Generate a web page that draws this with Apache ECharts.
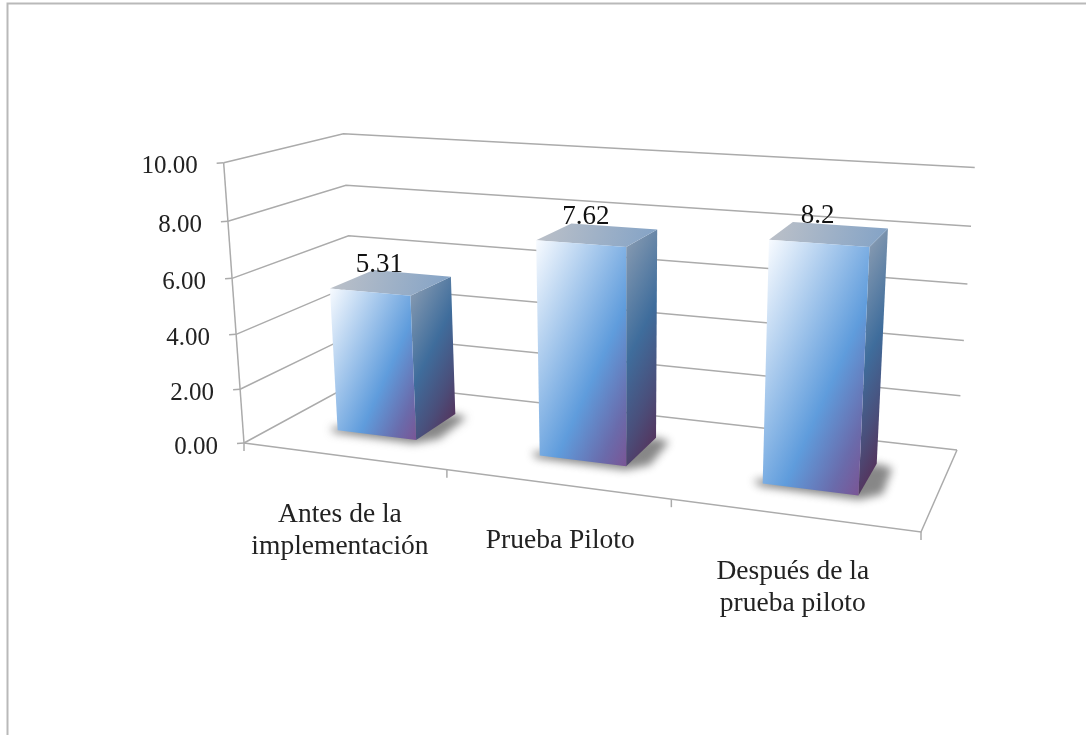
<!DOCTYPE html>
<html>
<head>
<meta charset="utf-8">
<style>html,body{margin:0;padding:0;background:#fff}#main{width:1086px;height:735px}</style>
<script src="https://cdn.jsdelivr.net/npm/echarts@6/dist/echarts.min.js"></script>
</head>
<body>
<div id="main"></div>
<script>
// data
var categories = ['Antes de la\nimplementación', 'Prueba Piloto', 'Después de la\nprueba piloto'];
var barValues = [5.31, 7.62, 8.2];
var barLabels = ['5.31', '7.62', '8.2'];
var yTicks = [0, 2, 4, 6, 8, 10];
var yTickLabels = ['0.00', '2.00', '4.00', '6.00', '8.00', '10.00'];

// corners of the 3d box on screen
var floorFL = [244, 443], floorFR = [921, 532], floorBR = [957, 450], floorBL = [356, 382];
var topFL = [225, 163], topBL = [342, 134], topBR = [975, 167];
var catLabelOffset = [[-3, 75], [4, 57], [0, 73]];

var FONT = '"Liberation Serif", serif';
var LINE = '#ababab';
var barRatio = 0.4, depthNear = 0.3, depthFar = 0.7;

// homography of the unit floor square (Heckbert)
function makeCamera() {
    var x0 = floorFL[0], y0 = floorFL[1], x1 = floorFR[0], y1 = floorFR[1];
    var x2 = floorBR[0], y2 = floorBR[1], x3 = floorBL[0], y3 = floorBL[1];
    var dx1 = x1 - x2, dx2 = x3 - x2, sx = x0 - x1 + x2 - x3;
    var dy1 = y1 - y2, dy2 = y3 - y2, sy = y0 - y1 + y2 - y3;
    var den = dx1 * dy2 - dx2 * dy1;
    var g = (sx * dy2 - dx2 * sy) / den;
    var h = (dx1 * sy - sx * dy1) / den;
    var pu = [x1 - x0 + g * x1, y1 - y0 + g * y1, g];
    var pd = [x3 - x0 + h * x3, y3 - y0 + h * y3, h];
    var p0 = [x0, y0, 1];

    // height column: least squares over the three top corners we can see
    var tops = [
        { p: topFL, u: 0, d: 0 },
        { p: topBL, u: 0, d: 1 },
        { p: topBR, u: 1, d: 1 }
    ];
    var rows = tops.map(function (t) {
        var sxv = pu[0] * t.u + pd[0] * t.d + p0[0];
        var syv = pu[1] * t.u + pd[1] * t.d + p0[1];
        var swv = pu[2] * t.u + pd[2] * t.d + p0[2];
        return { X: t.p[0], Y: t.p[1], r: t.p[0] * swv - sxv, s: t.p[1] * swv - syv };
    });
    function mean(key) {
        return rows.reduce(function (a, b) { return a + b[key]; }, 0) / rows.length;
    }
    var mX = mean('X'), mY = mean('Y'), mR = mean('r'), mS = mean('s');
    var num = 0, dn = 0;
    rows.forEach(function (q) {
        num += (q.X - mX) * (q.r - mR) + (q.Y - mY) * (q.s - mS);
        dn += (q.X - mX) * (q.X - mX) + (q.Y - mY) * (q.Y - mY);
    });
    var c = -num / dn;
    var pv = [mR + mX * c, mS + mY * c, c];
    return { pu: pu, pv: pv, pd: pd, p0: p0 };
}
var cam = makeCamera();

function project(u, v, d) {
    var X = cam.pu[0] * u + cam.pv[0] * v + cam.pd[0] * d + cam.p0[0];
    var Y = cam.pu[1] * u + cam.pv[1] * v + cam.pd[1] * d + cam.p0[1];
    var W = cam.pu[2] * u + cam.pv[2] * v + cam.pd[2] * d + cam.p0[2];
    return [X / W, Y / W];
}

// gradient along dir, from the first corner it meets to the last one
function faceGradient(pts, dir, stops) {
    var len = Math.sqrt(dir[0] * dir[0] + dir[1] * dir[1]);
    var dx = dir[0] / len, dy = dir[1] / len;
    var ts = pts.map(function (p) { return p[0] * dx + p[1] * dy; });
    var tMin = Math.min.apply(null, ts), tMax = Math.max.apply(null, ts);
    var cx = 0, cy = 0;
    pts.forEach(function (p) { cx += p[0] / pts.length; cy += p[1] / pts.length; });
    var tc = cx * dx + cy * dy;
    return new echarts.graphic.LinearGradient(
        cx + (tMin - tc) * dx, cy + (tMin - tc) * dy,
        cx + (tMax - tc) * dx, cy + (tMax - tc) * dy, stops, true);
}

var frontStops = [
    { offset: 0, color: '#f8fbff' }, { offset: 0.62, color: '#5f9cdc' },
    { offset: 0.86, color: '#6a6bab' }, { offset: 1, color: '#7a5595' }
];
var sideStops = [
    { offset: 0, color: '#8398b0' }, { offset: 0.46, color: '#3f6d9c' },
    { offset: 0.78, color: '#4a4f7b' }, { offset: 1, color: '#54365f' }
];
var topStops = [{ offset: 0, color: '#bbc0c8' }, { offset: 1, color: '#84a3c6' }];

function lineEl(points, width) {
    return { type: 'polyline', shape: { points: points }, style: { stroke: LINE, lineWidth: width || 1.5, fill: null } };
}

// value axis: walls, gridlines, stubs, labels
function renderWall(params, api) {
    var sys = params.coordSys;
    var y = api.coord([0, api.value(0)])[1];
    var v = (sys.y + sys.height - y) / sys.height;
    var front = project(0, v, 0);
    return {
        type: 'group',
        children: [
            lineEl([front, project(0, v, 1), project(1, v, 1)]),
            lineEl([front, [front[0] - 7, front[1] + 0.5]]),
            {
                type: 'text',
                style: {
                    text: yTickLabels[params.dataIndex], x: front[0] - 26, y: front[1] + 4,
                    align: 'right', verticalAlign: 'middle', font: '25px ' + FONT, fill: '#222'
                }
            }
        ]
    };
}

// category axis: floor outline, ticks, labels
function renderFloor(params, api) {
    var sys = params.coordSys;
    var i = params.dataIndex, n = categories.length;
    var c = api.coord([i, 0]);
    var u = (c[0] - sys.x) / sys.width;
    var tick = project((i + 1) / n, 0, 0);
    var mid = project(u, 0, 0);
    var children = [
        lineEl([tick, [tick[0], tick[1] + 8]]),
        {
            type: 'text',
            style: {
                text: categories[i], x: mid[0] + catLabelOffset[i][0], y: mid[1] + catLabelOffset[i][1],
                align: 'center', verticalAlign: 'middle', font: '27.5px ' + FONT, lineHeight: 32, fill: '#222'
            }
        }
    ];
    if (i === 0) {
        var o = project(0, 0, 0);
        children.push(lineEl([o, project(1, 0, 0), project(1, 0, 1)]));
        children.push(lineEl([o, project(0, 1, 0)]));
        children.push(lineEl([o, [o[0], o[1] + 8]]));
    }
    return { type: 'group', children: children };
}

function renderBar(params, api) {
    var sys = params.coordSys;
    var c = api.coord([api.value(0), api.value(1)]);
    var band = api.size([1, 0])[0];
    var uc = (c[0] - sys.x) / sys.width;
    var hw = band * barRatio / 2 / sys.width;
    var v = (sys.y + sys.height - c[1]) / sys.height;
    var u0 = uc - hw, u1 = uc + hw, d0 = depthNear, d1 = depthFar;

    var shadowPts = [project(u0 - 0.016, 0, d0 + 0.02), project(u0, 0, d0 - 0.035), project(u1 + 0.004, 0, d0 - 0.045), project(u1 + 0.03, 0, d0 + 0.05), project(u1 + 0.024, 0, d1 - 0.03), project(u1, 0, d1)];
    var front = [project(u0, v, d0), project(u1, v, d0), project(u1, 0, d0), project(u0, 0, d0)];
    var side = [project(u1, v, d0), project(u1, v, d1), project(u1, 0, d1), project(u1, 0, d0)];
    var top = [project(u0, v, d0), project(u0, v, d1), project(u1, v, d1), project(u1, v, d0)];
    var tc = project(uc, v, (d0 + d1) / 2);

    function face(pts, dir, stops) {
        return { type: 'polygon', shape: { points: pts }, style: { fill: faceGradient(pts, dir, stops) } };
    }
    return {
        type: 'group',
        children: [
            // only the blurred shadow shows, the polygon itself sits off screen
            {
                type: 'polygon', x: -3000, shape: { points: shadowPts },
                style: { fill: '#000', shadowBlur: 9, shadowOffsetX: 3000, shadowColor: 'rgba(70,70,70,0.65)' }
            },
            face(side, [2, 1], sideStops),
            face(top, [1, 0.25], topStops),
            face(front, [2.2, 1], frontStops),
            {
                type: 'text',
                style: {
                    text: barLabels[params.dataIndex], x: tc[0] - 12, y: tc[1] - 18,
                    align: 'center', verticalAlign: 'middle', font: '27px ' + FONT, fill: '#111'
                }
            }
        ]
    };
}

var myChart = echarts.init(document.getElementById('main'));
var option = {
    animation: false,
    backgroundColor: '#fff',
    grid: { left: 0, right: 0, top: 0, bottom: 0 },
    xAxis: { type: 'category', data: categories, show: false },
    yAxis: { type: 'value', min: 0, max: 10, interval: 2, show: false },
    graphic: [{
        type: 'polyline', silent: true, z: 0,
        shape: { points: [[7.5, 735], [7.5, 3.5], [1086, 3.5]] },
        style: { stroke: '#b9b9b9', lineWidth: 2, fill: null }
    }],
    series: [
        {
            type: 'custom', name: 'pared', coordinateSystem: 'cartesian2d', clip: false, z: 2,
            data: yTicks.map(function (t) { return [t]; }), encode: { y: 0 }, renderItem: renderWall
        },
        {
            type: 'custom', name: 'suelo', coordinateSystem: 'cartesian2d', clip: false, z: 2,
            data: categories.map(function (c, i) { return [i]; }), encode: { x: 0 }, renderItem: renderFloor
        },
        {
            type: 'custom', name: 'barras', coordinateSystem: 'cartesian2d', clip: false, z: 3,
            data: barValues.map(function (val, i) { return [i, val]; }), encode: { x: 0, y: 1 }, renderItem: renderBar
        }
    ]
};
myChart.setOption(option);
</script>
</body>
</html>
